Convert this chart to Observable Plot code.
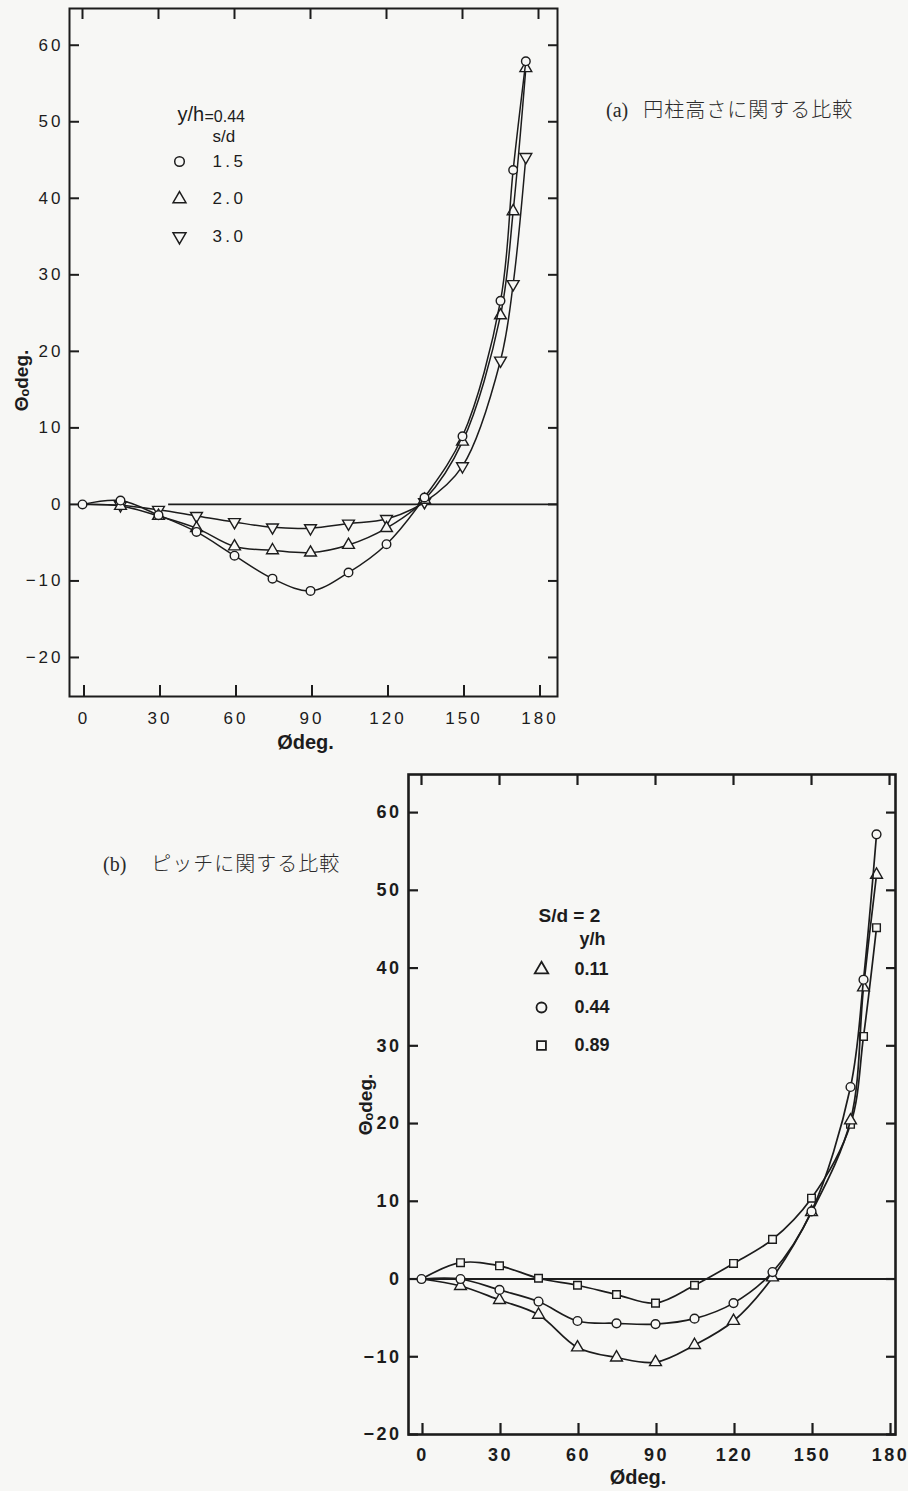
<!DOCTYPE html>
<html><head><meta charset="utf-8">
<script src="https://cdn.jsdelivr.net/npm/d3@7"></script>
<script src="https://cdn.jsdelivr.net/npm/@observablehq/plot@0.6"></script>
<style>
html,body{margin:0;padding:0;background:#f7f7f5;}
#page{position:relative;width:908px;height:1491px;overflow:hidden;background:#f7f7f5;}
.chart{position:absolute;}
.cap{position:absolute;font-family:"Noto Sans CJK JP",sans-serif;font-size:20px;color:#2a2a2a;white-space:nowrap;font-weight:300;letter-spacing:1px;}
.cap .lt{font-family:"Liberation Serif",serif;font-size:20px;letter-spacing:0;}
svg.pa g[aria-label$="tick label"] text{letter-spacing:3px;}
svg.pb g[aria-label$="tick label"] text{letter-spacing:2.5px;}
</style></head><body>
<div id="page">
  <div id="a" class="chart" style="left:0;top:0"></div>
  <div id="b" class="chart" style="left:340px;top:740px"></div>
  <div class="cap" style="left:606px;top:94px"><span class="lt" style="margin-right:15px">(a)</span>円柱高さに関する比較</div>
  <div class="cap" style="left:103px;top:848px"><span class="lt" style="margin-right:25px">(b)</span>ピッチに関する比較</div>
</div>
<script>
// ---------- data ----------
const phi = [0, 15, 30, 45, 60, 75, 90, 105, 120, 135, 150, 165, 170, 175];
// (a) y/h = 0.44, varying s/d
const seriesA = ["1.5", "2.0", "3.0"];
const thetaA_sd15 = [0, 0.5, -1.4, -3.6, -6.7, -9.7, -11.3, -8.9, -5.2, 0.9, 8.9, 26.6, 43.7, 57.9];
const thetaA_sd20 = [0, -0.2, -1.5, -3.1, -5.5, -6.0, -6.3, -5.3, -3.1, 0.6, 8.2, 24.7, 38.3, 57.0];
const thetaA_sd30 = [0, -0.1, -0.7, -1.5, -2.3, -3.0, -3.1, -2.5, -1.9, 0.3, 5.0, 18.8, 28.8, 45.4];
// (b) s/d = 2, varying y/h
const seriesB = ["0.11", "0.44", "0.89"];
const thetaB_yh011 = [0, -0.9, -2.7, -4.6, -8.8, -10.1, -10.7, -8.5, -5.4, 0.2, 8.6, 20.4, 37.5, 52.0];
const thetaB_yh044 = [0, 0.0, -1.4, -2.9, -5.4, -5.7, -5.8, -5.1, -3.1, 0.9, 8.7, 24.7, 38.5, 57.2];
const thetaB_yh089 = [0, 2.1, 1.7, 0.1, -0.8, -2.0, -3.1, -0.8, 2.0, 5.1, 10.4, 19.9, 31.2, 45.2];
const xTicks = [0, 30, 60, 90, 120, 150, 180];
const yTicks = [-20, -10, 0, 10, 20, 30, 40, 50, 60];

// ---------- helpers ----------
const ink = "#1c1c1c";
const paper = "#f7f7f5";
const sqrt3 = Math.sqrt(3);
const invTriangle = {
  draw(context, size) {
    const y = -Math.sqrt(size / (sqrt3 * 3));
    context.moveTo(0, -y * 2);
    context.lineTo(-sqrt3 * y, y);
    context.lineTo(sqrt3 * y, y);
    context.closePath();
  }
};
const rows = (vals, name) => phi.map((p, i) => ({phi: p, theta: vals[i], s: name}));

function seriesMarks(data, symbol, showOrigin, r, sw) {
  return [
    Plot.line(data, {x: "phi", y: "theta", curve: "catmull-rom", stroke: ink, strokeWidth: sw}),
    Plot.dot(showOrigin ? data : data.filter(d => d.phi !== 0),
      {x: "phi", y: "theta", symbol, r, fill: paper, stroke: ink, strokeWidth: 1.4})
  ];
}

// ---------- chart (a) ----------
const A1 = rows(thetaA_sd15, seriesA[0]);
const A2 = rows(thetaA_sd20, seriesA[1]);
const A3 = rows(thetaA_sd30, seriesA[2]);
const legA = [
  {label: seriesA[0], symbol: "circle"},
  {label: seriesA[1], symbol: "triangle"},
  {label: seriesA[2], symbol: invTriangle}
];
const xdA = [-5.13, 187.5];
const chartA = Plot.plot({
  className: "pa",
  width: 600, height: 770,
  marginLeft: 69, marginRight: 43, marginTop: 8, marginBottom: 74,
  x: {domain: xdA}, y: {domain: [-25.1, 64.8]},
  style: {background: "transparent", fontFamily: "Liberation Sans, sans-serif", color: ink},
  marks: [
    Plot.ruleY([0], {x1: 34, x2: xdA[1], stroke: ink, strokeWidth: 1.6}),
    Plot.axisY(yTicks, {anchor: "left", tickSize: -10, tickPadding: 16, fontSize: 17, strokeWidth: 2, label: null}),
    Plot.axisY(yTicks, {anchor: "right", tickSize: -10, tickFormat: () => "", strokeWidth: 2, label: null}),
    Plot.axisX(xTicks, {anchor: "bottom", tickSize: -11, tickPadding: 26, fontSize: 17, dx: 1.5, strokeWidth: 2, label: null}),
    Plot.axisX(xTicks, {anchor: "top", tickSize: -10, tickFormat: () => "", strokeWidth: 2, label: null}),
    Plot.frame({stroke: ink, strokeWidth: 2}),
    ...seriesMarks(A3, invTriangle, false, 4.4, 1.5),
    ...seriesMarks(A2, "triangle", false, 4.4, 1.5),
    ...seriesMarks(A1, "circle", true, 4.3, 1.5),
    // legend
    Plot.text(["y/h"], {frameAnchor: "top-left", dx: 108, dy: 106, textAnchor: "start", lineAnchor: "middle", fontSize: 20, text: d => d, fill: ink}),
    Plot.text(["=0.44"], {frameAnchor: "top-left", dx: 135, dy: 108, textAnchor: "start", lineAnchor: "middle", fontSize: 16, text: d => d, fill: ink}),
    Plot.text(["s/d"], {frameAnchor: "top-left", dx: 143, dy: 128, textAnchor: "start", lineAnchor: "middle", fontSize: 17, text: d => d, fill: ink}),
    ...legA.map((d, i) => Plot.dot([d], {frameAnchor: "top-left", dx: 110, dy: 153 + i * 37.5, symbol: d.symbol, r: 4.8, fill: paper, stroke: ink, strokeWidth: 1.5})),
    ...legA.map((d, i) => Plot.text([d], {frameAnchor: "top-left", dx: 143, dy: 153 + i * 37.5, textAnchor: "start", lineAnchor: "middle", fontSize: 17, text: d => d.label.split("").join("\u2009"), fill: ink})),
    // axis titles
    Plot.text(["Θₒdeg."], {frameAnchor: "left", dx: -48, dy: 28, rotate: -90, textAnchor: "middle", lineAnchor: "middle", fontSize: 19, text: d => d, fill: ink, fontWeight: "bold"}),
    Plot.text(["Ødeg."], {frameAnchor: "bottom", dx: -8, dy: 46, textAnchor: "middle", lineAnchor: "middle", fontSize: 20, text: d => d, fill: ink, fontWeight: "bold"})
  ]
});
document.getElementById("a").appendChild(chartA);

// ---------- chart (b) ----------
const B1 = rows(thetaB_yh011, seriesB[0]);
const B2 = rows(thetaB_yh044, seriesB[1]);
const B3 = rows(thetaB_yh089, seriesB[2]);
const legB = [
  {label: seriesB[0], symbol: "triangle"},
  {label: seriesB[1], symbol: "circle"},
  {label: seriesB[2], symbol: "square"}
];
const xdB = [-5, 182.3];
const chartB = Plot.plot({
  className: "pb",
  width: 568, height: 751,
  marginLeft: 68, marginRight: 13, marginTop: 34, marginBottom: 57,
  x: {domain: xdB}, y: {domain: [-20, 64.9]},
  style: {background: "transparent", fontFamily: "Liberation Sans, sans-serif", color: ink},
  marks: [
    Plot.ruleY([0], {x1: xdB[0], x2: xdB[1], stroke: ink, strokeWidth: 1.8}),
    Plot.axisY(yTicks, {anchor: "left", tickSize: -10, tickPadding: 17, fontSize: 18, fontWeight: "bold", strokeWidth: 2.2, label: null}),
    Plot.axisY(yTicks, {anchor: "right", tickSize: -10, tickFormat: () => "", strokeWidth: 2.2, label: null}),
    Plot.axisX(xTicks, {anchor: "bottom", tickSize: -11, tickPadding: 25, fontSize: 18, dx: 1, fontWeight: "bold", strokeWidth: 2.2, label: null}),
    Plot.axisX(xTicks, {anchor: "top", tickSize: -10, tickFormat: () => "", strokeWidth: 2.2, label: null}),
    Plot.frame({stroke: ink, strokeWidth: 2.6}),
    ...seriesMarks(B3, "square", false, 4.3, 1.7),
    ...seriesMarks(B1, "triangle", false, 4.4, 1.7),
    ...seriesMarks(B2, "circle", true, 4.4, 1.7),
    // legend
    Plot.text(["S/d = 2"], {frameAnchor: "top-left", dx: 130, dy: 141, textAnchor: "start", lineAnchor: "middle", fontSize: 19, fontWeight: "bold", text: d => d, fill: ink}),
    Plot.text(["y/h"], {frameAnchor: "top-left", dx: 171, dy: 165, textAnchor: "start", lineAnchor: "middle", fontSize: 18, fontWeight: "bold", text: d => d, fill: ink}),
    ...legB.map((d, i) => Plot.dot([d], {frameAnchor: "top-left", dx: 133, dy: 195 + i * 38, symbol: d.symbol, r: 5, fill: paper, stroke: ink, strokeWidth: 1.8})),
    ...legB.map((d, i) => Plot.text([d], {frameAnchor: "top-left", dx: 166, dy: 195 + i * 38, textAnchor: "start", lineAnchor: "middle", fontSize: 18, fontWeight: "bold", text: "label", fill: ink})),
    // axis titles
    Plot.text(["Θₒdeg."], {frameAnchor: "left", dx: -43, dy: 0, rotate: -90, textAnchor: "middle", lineAnchor: "middle", fontSize: 19, text: d => d, fill: ink, fontWeight: "bold"}),
    Plot.text(["Ødeg."], {frameAnchor: "bottom", dx: -14, dy: 43, textAnchor: "middle", lineAnchor: "middle", fontSize: 20, text: d => d, fill: ink, fontWeight: "bold"})
  ]
});
document.getElementById("b").appendChild(chartB);
</script>
</body></html>
